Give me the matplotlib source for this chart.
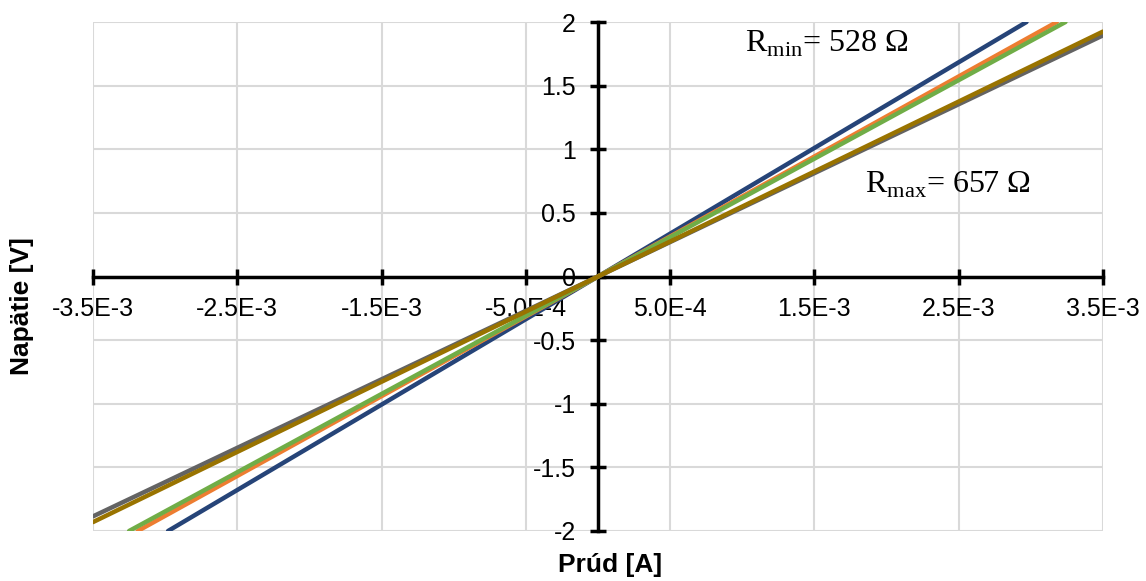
import numpy as np
import matplotlib
matplotlib.use('Agg')
import matplotlib.pyplot as plt
from matplotlib.ticker import FuncFormatter, FixedLocator

# namerane krivky (prud v A, napatie vo V)
prud_1 = [-2.98e-3, 0, 2.97e-3]
nap_1 = [-2.0, 0, 2.0]
prud_2 = [-3.19e-3, 0, 3.18e-3]
nap_2 = [-2.0, 0, 2.0]
prud_3 = [-3.25e-3, 0, 3.24e-3]
nap_3 = [-2.0, 0, 2.0]
prud_4 = [-3.5e-3, 0, 3.5e-3]
nap_4 = [-1.885, 0, 1.895]
prud_5 = [-3.5e-3, 0, 3.5e-3]
nap_5 = [-1.93, 0, 1.925]

farby = ['#264478', '#ED7D31', '#70AD47', '#636363', '#997300']

x_ticks = [-3.5e-3, -2.5e-3, -1.5e-3, -5e-4, 5e-4, 1.5e-3, 2.5e-3, 3.5e-3]
y_ticks = [-2, -1.5, -1, -0.5, 0, 0.5, 1, 1.5, 2]

plt.rcParams['mathtext.fontset'] = 'custom'
plt.rcParams['mathtext.rm'] = 'Liberation Serif'
plt.rcParams['font.family'] = 'Liberation Sans'


def sci(v, pos=None):
    s = '%.1E' % v
    mant, ex = s.split('E')
    return mant + 'E' + str(int(ex))


def obyc(v, pos=None):
    return '%g' % v


fig = plt.figure(figsize=(11.46, 5.81), dpi=100)
ax = fig.add_axes([93/1146, 1-531/581, (1103-93)/1146, (531-22)/581])

data = [(prud_1, nap_1), (prud_2, nap_2), (prud_3, nap_3), (prud_4, nap_4), (prud_5, nap_5)]
for (x, y), c in zip(data, farby):
    ax.plot(x, y, color=c, lw=3.2, solid_capstyle='round', zorder=3)

ax.set_xlim(-3.5e-3, 3.5e-3)
ax.set_ylim(-2, 2)
ax.xaxis.set_major_locator(FixedLocator(x_ticks))
ax.yaxis.set_major_locator(FixedLocator(y_ticks))
ax.xaxis.set_major_formatter(FuncFormatter(sci))
ax.yaxis.set_major_formatter(FuncFormatter(obyc))

ax.grid(True, color='#D9D9D9', lw=1.5, zorder=0)
ax.set_axisbelow(True)

ax.spines['left'].set_position(('data', 0))
ax.spines['bottom'].set_position(('data', 0))
ax.spines['top'].set_visible(False)
ax.spines['right'].set_visible(False)
for s in ['left', 'bottom']:
    ax.spines[s].set_linewidth(2.5)
    ax.spines[s].set_zorder(2)

ax.tick_params(axis='both', direction='inout', length=12, width=2.5, labelsize=18)
ax.tick_params(axis='x', pad=9)
ax.tick_params(axis='y', pad=10)

ax.text(1.02e-3, 1.77, r'R$_{\rm min}$= 528 Ω', fontsize=23, family='Liberation Serif', va='baseline')
ax.text(1.85e-3, 0.66, r'R$_{\rm max}$= 657 Ω', fontsize=23, family='Liberation Serif', va='baseline')

fig.text(610/1146, 1-565/581, 'Prúd [A]', fontsize=19, fontweight='bold', ha='center', va='center')
fig.text(22/1146, 1-306/581, 'Napätie [V]', fontsize=19, fontweight='bold', ha='center', va='center', rotation=90)

fig.savefig('out.png', dpi=100)
